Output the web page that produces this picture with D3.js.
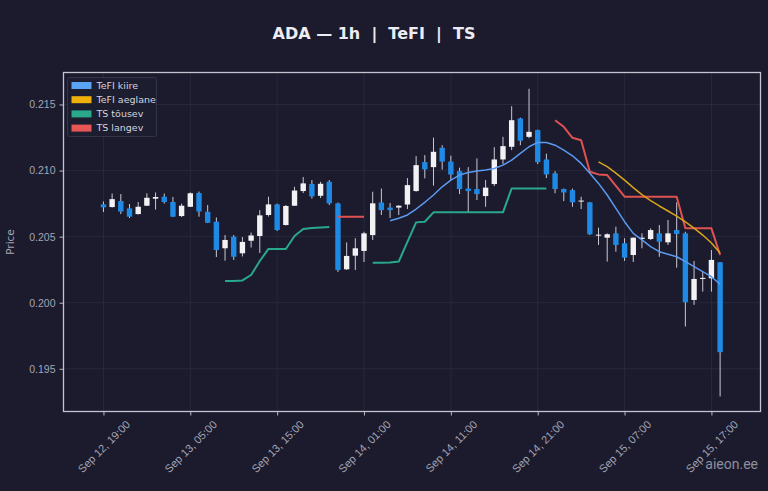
<!DOCTYPE html>
<html>
<head>
<meta charset="utf-8">
<script src="https://cdn.jsdelivr.net/npm/d3@7"></script>
<style>
  html, body { margin: 0; padding: 0; background: #1b1b2d; }
  svg { display: block; font-family: "DejaVu Sans", sans-serif; }
</style>
</head>
<body>
<div id="chart"></div>
<script>
// ADA 1h candles, Sep 12 19:00 -> Sep 15 18:00 (UTC)
const startTime = "2025-09-12T19:00:00Z";

const opens = [
  0.20744,0.20724,0.20769,0.20714,0.20671,0.20734,0.20787,0.20802,0.20762,0.20656,
  0.20726,0.20830,0.20688,0.20613,0.20412,0.20500,0.20374,0.20469,0.20505,0.20664,
  0.20744,0.20588,0.20734,0.20845,0.20898,0.20809,0.20915,0.20752,0.20253,0.20356,
  0.20392,0.20512,0.20758,0.20720,0.20720,0.20743,0.20845,0.21064,0.21026,0.21172,
  0.21068,0.20996,0.20864,0.20860,0.20807,0.20898,0.21084,0.21180,0.21394,0.21255,
  0.21306,0.21084,0.20979,0.20860,0.20852,0.20766,0.20760,0.20510,0.20492,0.20525,
  0.20450,0.20361,0.20482,0.20482,0.20525,0.20457,0.20550,0.20525,0.20021,0.20180,
  0.20185,0.20306];
const highs = [
  0.20766,0.20826,0.20822,0.20747,0.20762,0.20828,0.20834,0.20826,0.20800,0.20750,
  0.20835,0.20841,0.20739,0.20645,0.20512,0.20512,0.20497,0.20531,0.20701,0.20802,
  0.20750,0.20739,0.20877,0.20951,0.20928,0.20915,0.20928,0.20758,0.20456,0.20488,
  0.20537,0.20840,0.20864,0.20754,0.20737,0.20943,0.21109,0.21117,0.21249,0.21192,
  0.21113,0.21022,0.21026,0.21092,0.20928,0.21177,0.21255,0.21487,0.21400,0.21619,
  0.21310,0.21128,0.20996,0.20864,0.20864,0.20802,0.20762,0.20568,0.20525,0.20575,
  0.20488,0.20494,0.20525,0.20563,0.20588,0.20626,0.20760,0.20537,0.20316,0.20235,
  0.20399,0.20308];
const lows = [
  0.20686,0.20720,0.20671,0.20641,0.20667,0.20732,0.20705,0.20750,0.20648,0.20648,
  0.20724,0.20651,0.20603,0.20346,0.20318,0.20324,0.20350,0.20418,0.20376,0.20652,
  0.20543,0.20584,0.20732,0.20830,0.20788,0.20792,0.20739,0.20233,0.20248,0.20248,
  0.20308,0.20475,0.20664,0.20641,0.20664,0.20709,0.20841,0.20941,0.20886,0.21007,
  0.20928,0.20822,0.20686,0.20777,0.20726,0.20883,0.21049,0.21155,0.21192,0.21245,
  0.21049,0.20943,0.20828,0.20769,0.20726,0.20709,0.20512,0.20437,0.20311,0.20386,
  0.20316,0.20308,0.20412,0.20475,0.20348,0.20437,0.20265,0.19820,0.19984,0.20084,
  0.20084,0.19291];
const closes = [
  0.20722,0.20784,0.20690,0.20651,0.20726,0.20794,0.20800,0.20762,0.20651,0.20734,
  0.20828,0.20690,0.20605,0.20399,0.20475,0.20348,0.20460,0.20509,0.20661,0.20744,
  0.20550,0.20732,0.20849,0.20903,0.20805,0.20900,0.20752,0.20248,0.20354,0.20412,
  0.20525,0.20752,0.20701,0.20701,0.20734,0.20890,0.21041,0.21009,0.21142,0.21068,
  0.20970,0.20860,0.20845,0.20822,0.20871,0.21084,0.21185,0.21381,0.21226,0.21293,
  0.21064,0.20971,0.20860,0.20834,0.20760,0.20773,0.20518,0.20515,0.20518,0.20437,
  0.20341,0.20492,0.20492,0.20550,0.20462,0.20525,0.20520,0.20004,0.20180,0.20188,
  0.20324,0.19626];

// indicator series, null where the line is not drawn
const gap = n => Array(n).fill(null);
const tefiFast = gap(33).concat([
  0.20620,0.20639,0.20664,0.20709,0.20760,0.20815,0.20877,0.20928,0.20966,0.20986,
  0.20996,0.21004,0.21016,0.21041,0.21079,0.21130,0.21180,0.21213,0.21213,0.21192,
  0.21155,0.21112,0.21054,0.20979,0.20903,0.20815,0.20714,0.20613,0.20525,0.20475,
  0.20424,0.20386,0.20367,0.20348,0.20311,0.20273,0.20235,0.20197,0.20140]);
const tefiSlow = gap(57).concat([
  0.21066,0.21030,0.20981,0.20928,0.20871,0.20818,0.20773,0.20732,0.20694,0.20656,
  0.20611,0.20565,0.20512,0.20452,0.20376]);
const tsUp = gap(14).concat([
  0.20165,0.20165,0.20169,0.20210,0.20316,0.20407,0.20407,0.20407,0.20505,0.20558,
  0.20565,0.20569,0.20573], gap(4), [
  0.20303,0.20303,0.20305,0.20312,0.20460,0.20608,0.20613,0.20684,0.20684,0.20684,
  0.20684,0.20684,0.20684,0.20684,0.20684,0.20684,0.20865,0.20865,0.20865,0.20865,
  0.20865], gap(20));
const tsDown = gap(27).concat([0.20651,0.20651,0.20651,0.20651], gap(21), [
  0.21381,0.21331,0.21248,0.21230,0.20991,0.20971,0.20966,0.20885,0.20802,0.20802,
  0.20802,0.20802,0.20802,0.20802,0.20802,0.20563,0.20563,0.20563,0.20563,0.20361]);

const yTicks = [0.195, 0.200, 0.205, 0.210, 0.215];
const xTickTimes = ["2025-09-12T19:00:00Z","2025-09-13T05:00:00Z","2025-09-13T15:00:00Z",
  "2025-09-14T01:00:00Z","2025-09-14T11:00:00Z","2025-09-14T21:00:00Z",
  "2025-09-15T07:00:00Z","2025-09-15T17:00:00Z"];
const xTickLabels = ["Sep 12, 19:00","Sep 13, 05:00","Sep 13, 15:00","Sep 14, 01:00",
  "Sep 14, 11:00","Sep 14, 21:00","Sep 15, 07:00","Sep 15, 17:00"];

const legendNames = ["TeFI kiire", "TeFI aeglane", "TS tõusev", "TS langev"];
const legendColors = ["#5ba3f5", "#f0b00c", "#2aa88c", "#e85555"];

const width = 768, height = 491;
const margin = {top: 72.5, right: 7.5, bottom: 79.5, left: 63.5};
const W = width - margin.left - margin.right;
const H = height - margin.top - margin.bottom;

const t0 = new Date(startTime);
const times = opens.map((d, i) => d3.utcHour.offset(t0, i));
const candles = opens.map((o, i) => ({t: times[i], o: o, h: highs[i], l: lows[i], c: closes[i]}));

const svg = d3.select("#chart").append("svg")
  .attr("width", width)
  .attr("height", height);

svg.append("rect").attr("width", width).attr("height", height).attr("fill", "#1b1b2d");

const g = svg.append("g")
  .attr("transform", `translate(${margin.left},${margin.top})`);

const x = d3.scaleUtc()
  .domain([d3.utcMinute.offset(t0, -276), d3.utcMinute.offset(t0, 4539)])
  .range([0, W]);

const y = d3.scaleLinear()
  .domain([0.19177, 0.21742])
  .range([H, 0]);

const hourPx = x(d3.utcHour.offset(t0, 1)) - x(t0);
const bodyW = hourPx * 0.62;

// grid
g.append("g").selectAll("line").data(yTicks).join("line")
  .attr("x1", 0).attr("x2", W)
  .attr("y1", d => y(d)).attr("y2", d => y(d))
  .attr("stroke", "#2b2b42").attr("stroke-width", 0.8);
g.append("g").selectAll("line").data(xTickTimes).join("line")
  .attr("x1", d => x(new Date(d))).attr("x2", d => x(new Date(d)))
  .attr("y1", 0).attr("y2", H)
  .attr("stroke", "#2b2b42").attr("stroke-width", 0.8);

// candles
const cg = g.append("g").selectAll("g").data(candles).join("g");
cg.append("line")
  .attr("x1", d => x(d.t)).attr("x2", d => x(d.t))
  .attr("y1", d => y(d.h)).attr("y2", d => y(d.l))
  .attr("stroke", "#c9c9d3").attr("stroke-width", 1);
cg.append("rect")
  .attr("x", d => x(d.t) - bodyW / 2)
  .attr("width", bodyW)
  .attr("y", d => y(Math.max(d.o, d.c)))
  .attr("height", d => Math.max(1, Math.abs(y(d.o) - y(d.c))))
  .attr("fill", d => d.c >= d.o ? "#f2f2f4" : "#1e8ae6");

// indicator lines
const lineGen = d3.line()
  .defined(d => d.v != null)
  .x(d => x(d.t))
  .y(d => y(d.v));

const series = [
  {vals: tsUp, color: "#2aa88c", w: 2},
  {vals: tsDown, color: "#e05252", w: 2},
  {vals: tefiSlow, color: "#d9a41a", w: 1.5},
  {vals: tefiFast, color: "#5b9af0", w: 1.5}
];
series.forEach(function(s) {
  g.append("path")
    .datum(s.vals.map((v, i) => ({t: times[i], v: v})))
    .attr("fill", "none")
    .attr("stroke", s.color)
    .attr("stroke-width", s.w)
    .attr("stroke-linejoin", "round")
    .attr("d", lineGen);
});

// axes
const yAxis = g.append("g")
  .call(d3.axisLeft(y).tickValues(yTicks).tickFormat(d3.format(".3f")).tickSize(4).tickPadding(4));
yAxis.select(".domain").remove();
yAxis.selectAll("line").attr("stroke", "#b8b8c4");
yAxis.selectAll("text").attr("fill", "#a4a4b4").style("font-size", "10.5px");

const xAxis = g.append("g")
  .attr("transform", `translate(0,${H})`)
  .call(d3.axisBottom(x)
    .tickValues(xTickTimes.map(d => new Date(d)))
    .tickFormat((d, i) => xTickLabels[i])
    .tickSize(4));
xAxis.select(".domain").remove();
xAxis.selectAll("line").attr("stroke", "#b8b8c4");
xAxis.selectAll("text")
  .attr("fill", "#a4a4b4")
  .style("font-size", "11px")
  .attr("text-anchor", "middle")
  .attr("y", 0)
  .attr("dy", "0.35em")
  .attr("transform", function() {
    const w = this.getComputedTextLength();
    const off = 7 + (w + 11) * 0.7071 / 2;
    return `translate(0,${off}) rotate(-45)`;
  });

// frame
g.append("rect")
  .attr("width", W).attr("height", H)
  .attr("fill", "none")
  .attr("stroke", "#c4c4d0")
  .attr("stroke-width", 1.3);

// legend
const lg = g.append("g").attr("transform", "translate(4,5)");
lg.append("rect")
  .attr("width", 89).attr("height", 59).attr("rx", 2)
  .attr("fill", "#1d1d30").attr("stroke", "#3a3a52").attr("stroke-width", 0.8);
legendNames.forEach(function(name, i) {
  lg.append("rect")
    .attr("x", 4).attr("y", 4.5 + i * 14.2)
    .attr("width", 20).attr("height", 7)
    .attr("fill", legendColors[i]);
  lg.append("text")
    .attr("x", 29).attr("y", 8 + i * 14.2)
    .attr("dy", "0.35em")
    .attr("fill", "#d4d4de")
    .style("font-size", "9.5px")
    .text(name);
});

// titles
svg.append("text")
  .attr("x", 374).attr("y", 39)
  .attr("text-anchor", "middle")
  .attr("fill", "#ececf2")
  .style("font-size", "16px")
  .style("font-weight", "bold")
  .style("white-space", "pre")
  .text("ADA — 1h  |  TeFI  |  TS");

svg.append("text")
  .attr("transform", `translate(14,${margin.top + H / 2}) rotate(-90)`)
  .attr("text-anchor", "middle")
  .attr("fill", "#a4a4b4")
  .style("font-size", "10.5px")
  .text("Price");

svg.append("text")
  .attr("x", 758).attr("y", 469)
  .attr("text-anchor", "end")
  .attr("fill", "#8e8e9e")
  .style("font-size", "14px")
  .style("font-family", "Roboto, sans-serif")
  .text("aieon.ee");
</script>
</body>
</html>
